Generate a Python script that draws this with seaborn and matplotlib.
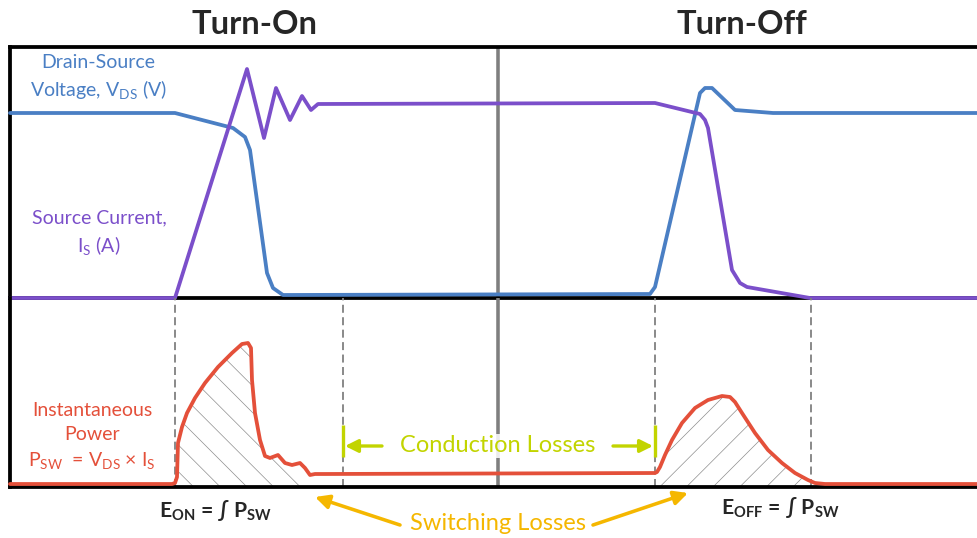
import numpy as np
import matplotlib
matplotlib.use("Agg")
import matplotlib.pyplot as plt
import seaborn as sns

# waveforms (x = time in px units, y = amplitude units)
time_vds = [10, 175, 233, 245, 250, 267, 273, 283, 650, 655, 700, 705, 712, 735, 773, 977]
vds = [185, 185, 170, 161, 148, 25, 10, 3, 4, 11, 205, 210, 210, 188, 185, 185]

time_is = [10, 175, 247, 264, 276, 290, 302, 311, 318, 655, 700, 705, 708, 732, 740, 747, 810, 977]
i_s = [0, 0, 229, 160, 210, 178, 202, 188, 194, 195, 184, 178, 170, 28, 15, 11, 0, 0]

time_psw = [10, 172, 175, 177, 178, 182, 187, 195, 205, 218, 232, 242, 248, 251, 252, 255,
            260, 265, 270, 278, 285, 292, 300, 305, 310, 315, 325,
            655, 657, 660, 665, 672, 682, 695, 708, 722, 730, 735, 742, 755, 768, 782,
            795, 808, 815, 825, 977]
psw = [3, 3, 4, 10, 44, 60, 74, 89, 104, 120, 134, 143, 144, 139, 107, 74,
       47, 31, 29, 32, 24, 22, 24, 19, 12, 13, 13,
       14, 15, 20, 32, 47, 64, 79, 87, 91, 90, 85, 74, 54, 37, 24,
       14, 7, 4, 3, 3]

# switching events (dashed markers) and windows
event_times = [175, 343, 655, 811]
center_time = 498
eon_window = (175, 312)
eoff_window = (655, 815)
cond_window = (343, 655)

BLUE = "#4a7fc4"
PURPLE = "#7b4fca"
RED = "#e4503a"
LIME = "#c2d400"
GOLD = "#f5b700"
GRAY = "#7f7f7f"

sns.set_theme(style="white")
plt.rcParams["font.family"] = ["Lato", "DejaVu Sans"]
plt.rcParams["mathtext.fontset"] = "custom"
plt.rcParams["mathtext.rm"] = "Lato"
plt.rcParams["hatch.linewidth"] = 0.6
plt.rcParams["hatch.color"] = "#8a8a8a"

fig = plt.figure(figsize=(977 / 80, 538 / 80), dpi=80, facecolor="white")
ax_top = fig.add_axes([10 / 977, 240 / 538, 967 / 977, 251 / 538])
ax_bot = fig.add_axes([10 / 977, 51 / 538, 967 / 977, 189 / 538])

for ax in (ax_top, ax_bot):
    ax.set_xlim(10, 977)
    ax.set_xticks([])
    ax.set_yticks([])
    ax.patch.set_visible(False)
    for s in ax.spines.values():
        s.set_color("black")
        s.set_linewidth(3.4)
    ax.spines["right"].set_visible(False)
    ax.axvline(center_time, color=GRAY, lw=3.2, zorder=1.5)
ax_bot.spines["top"].set_visible(False)
ax_top.set_ylim(0, 251)
ax_bot.set_ylim(0, 189)

line_kw = dict(lw=3.4, estimator=None, sort=False, solid_joinstyle="round",
               solid_capstyle="round", clip_on=False)

# top panel: V_DS and I_S
sns.lineplot(x=time_vds, y=vds, ax=ax_top, color=BLUE, zorder=3, **line_kw)
sns.lineplot(x=time_is, y=i_s, ax=ax_top, color=PURPLE, zorder=4, **line_kw)

# bottom panel: P_SW
t = np.array(time_psw)
p = np.array(psw)
for (a, b), h in ((eon_window, "\\"), (eoff_window, "/")):
    ax_bot.fill_between(t, p, 0, where=(t >= a) & (t <= b), facecolor="none",
                        edgecolor="#8a8a8a", hatch=h, linewidth=0, zorder=2)
for ev in event_times:
    ax_bot.axvline(ev, color=GRAY, lw=1.6, dashes=(4.5, 2.5), zorder=1.6)
sns.lineplot(x=time_psw, y=psw, ax=ax_bot, color=RED, zorder=3, **line_kw)

# titles
ax_top.text(255, 273, "Turn-On", ha="center", va="center", fontsize=29.5,
            fontweight="bold", clip_on=False)
ax_top.text(742, 273, "Turn-Off", ha="center", va="center", fontsize=29.5,
            fontweight="bold", clip_on=False)

# signal labels
ax_top.text(98, 220, "Drain-Source\nVoltage, V$_\\mathregular{DS}$ (V)", ha="center",
            va="center", color=BLUE, fontsize=17.5, linespacing=1.45)
ax_top.text(99, 64, "Source Current,\nI$_\\mathregular{S}$ (A)", ha="center",
            va="center", color=PURPLE, fontsize=17.5, linespacing=1.45)
ax_bot.text(92, 50, "Instantaneous\nPower\nP$_\\mathregular{SW}$  = V$_\\mathregular{DS}$ × I$_\\mathregular{S}$",
            ha="center", va="center", color=RED, fontsize=17.5, linespacing=1.5)

# conduction losses
ax_bot.text(center_time, 41, "Conduction Losses", ha="center", va="center", color=LIME,
            fontsize=21.3, bbox=dict(facecolor="white", edgecolor="none", alpha=0.85, pad=1))
for x0 in cond_window:
    ax_bot.plot([x0, x0], [30, 62], color=LIME, lw=3, solid_capstyle="butt", zorder=4)
ax_bot.annotate("", xy=(cond_window[0] + 2, 41), xytext=(382, 41),
                arrowprops=dict(arrowstyle="-|>", color=LIME, lw=3, mutation_scale=24,
                                shrinkA=0, shrinkB=0))
ax_bot.annotate("", xy=(cond_window[1] - 2, 41), xytext=(613, 41),
                arrowprops=dict(arrowstyle="-|>", color=LIME, lw=3, mutation_scale=24,
                                shrinkA=0, shrinkB=0))

# energy labels and switching losses
ax_bot.text(216, -24, "E$_\\mathregular{ON}$ = ∫ P$_\\mathregular{SW}$", ha="center",
            va="center", fontsize=19, fontweight="bold", clip_on=False)
ax_bot.text(780, -21, "E$_\\mathregular{OFF}$ = ∫ P$_\\mathregular{SW}$", ha="center",
            va="center", fontsize=19, fontweight="bold", clip_on=False)
ax_bot.text(center_time, -37, "Switching Losses", ha="center", va="center", color=GOLD,
            fontsize=21.3, clip_on=False)
ax_bot.annotate("", xy=(315, -10), xytext=(400, -38), annotation_clip=False,
                arrowprops=dict(arrowstyle="-|>", color=GOLD, lw=3.2, mutation_scale=26,
                                shrinkA=0, shrinkB=0))
ax_bot.annotate("", xy=(688, -6), xytext=(593, -38), annotation_clip=False,
                arrowprops=dict(arrowstyle="-|>", color=GOLD, lw=3.2, mutation_scale=26,
                                shrinkA=0, shrinkB=0))

fig.savefig("out.png", dpi=80)
